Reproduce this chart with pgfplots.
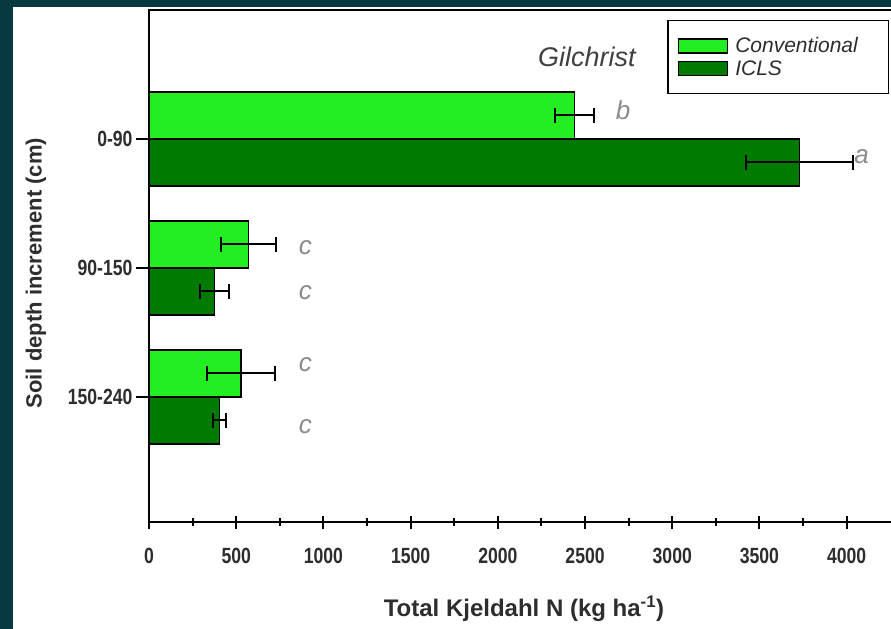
\documentclass[border=0pt]{standalone}
\usepackage{fontspec}
\setmainfont{Liberation Sans}
\newfontfamily\condfont{Liberation Sans}[FakeStretch=0.8]
\usepackage{pgfplots}
\pgfplotsset{compat=1.18}
\definecolor{frame}{RGB}{6,58,64}
\definecolor{convgreen}{RGB}{34,238,34}
\definecolor{iclsgreen}{RGB}{0,122,0}
\definecolor{lettergray}{RGB}{140,140,140}
\definecolor{labelgray}{RGB}{45,45,45}

\begin{document}
\begin{tikzpicture}
\path[use as bounding box] (0bp,0bp) rectangle (891bp,629bp);
\fill[frame] (0bp,0bp) rectangle (891bp,629bp);
\fill[white] (13bp,0bp) rectangle (891bp,622bp);
\begin{axis}[
  at={(149bp,107bp)}, anchor=south west,
  scale only axis, width=750bp, height=512bp,
  xmin=0, xmax=4300, ymin=-1, ymax=2.97, y dir=reverse,
  axis line style={line width=2bp},
  xtick={0,500,...,4000}, minor x tick num=1,
  ytick={0,1,2}, yticklabels={0-90,90-150,150-240},
  xtick pos=bottom, ytick pos=left,
  xtick align=center, ytick align=outside,
  major tick length=13bp, minor tick length=8bp,
  every tick/.style={black, line width=2bp},
  /pgf/number format/1000 sep={},
  /pgf/number format/assume math mode=true,
  ticklabel style={font=\condfont\bfseries\fontsize{22bp}{26bp}\selectfont, text=labelgray},
  xticklabel style={yshift=-16bp},
  xlabel={Total Kjeldahl N (kg ha\textsuperscript{-1})},
  xlabel style={font=\bfseries\fontsize{24bp}{28bp}\selectfont, text=labelgray,
    at={(axis description cs:0.5,-0.1855)}, anchor=base},
  ylabel={Soil depth increment (cm)},
  ylabel style={font=\bfseries\fontsize{22bp}{26bp}\selectfont, text=labelgray,
    at={(axis description cs:-0.1507,0.486)}, anchor=center},
  bar width=0.364,
  legend image code/.code={\draw[#1, line width=1.5bp] (0bp,-7bp) rectangle (49bp,7bp);},
  legend cell align=left,
  legend style={at={(axis description cs:0.6907,0.9805)}, anchor=north west,
    draw=black, line width=1.5bp, inner xsep=10bp, inner ysep=15bp, row sep=2bp,
    column sep=5bp,
    font=\itshape\fontsize{21bp}{23bp}\selectfont, text=labelgray},
  error bars/error bar style={line width=2bp, black},
  error bars/error mark options={rotate=90, mark size=7.5bp, line width=2bp, black},
]
\addplot[xbar, bar shift=-0.182, fill=convgreen, draw=black, line width=1.5bp]
  coordinates {(2440,0) (570,1) (528,2)};
\addlegendentry{\makebox[141bp][l]{Conventional}}
\addplot[xbar, bar shift=0.182, fill=iclsgreen, draw=black, line width=1.5bp]
  coordinates {(3730,0) (375,1) (405,2)};
\addlegendentry{ICLS}

% error bars at the bar centres
\addplot[forget plot, draw=none, mark=none, error bars/.cd, x dir=both, x explicit]
  coordinates {(2440,-0.182) +- (110,0) (570,0.818) +- (160,0) (528,1.818) +- (193,0)};
\addplot[forget plot, draw=none, mark=none, error bars/.cd, x dir=both, x explicit]
  coordinates {(3730,0.182) +- (305,0) (375,1.182) +- (83,0) (405,2.182) +- (38,0)};

\node[font=\itshape\fontsize{27bp}{30bp}\selectfont, text=black!75] at (axis cs:2511,-0.64) {Gilchrist};
\begin{scope}[every node/.style={font=\itshape\fontsize{26bp}{28bp}\selectfont, text=lettergray}]
\node at (axis cs:2718,-0.225) {b};
\node at (axis cs:4086,0.14) {a};
\node at (axis cs:897,0.845) {c};
\node at (axis cs:897,1.194) {c};
\node at (axis cs:897,1.752) {c};
\node at (axis cs:897,2.233) {c};
\end{scope}
\end{axis}
\end{tikzpicture}
\end{document}
